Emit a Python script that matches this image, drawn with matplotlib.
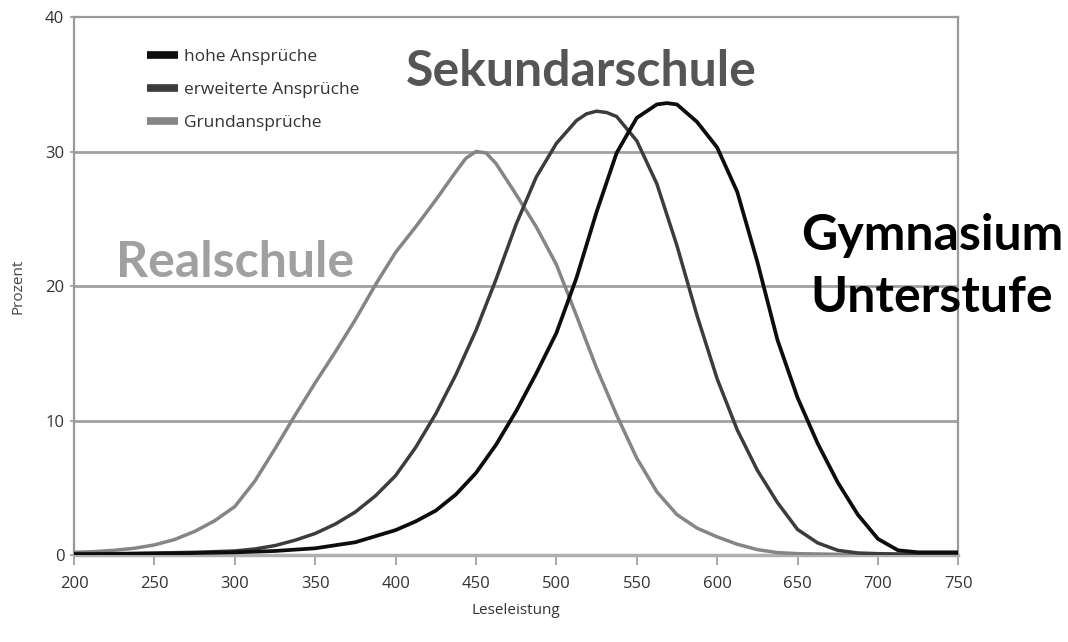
import matplotlib
matplotlib.use("Agg")
import matplotlib.pyplot as plt
from matplotlib.lines import Line2D

# Data (Leseleistung vs. Prozent)
x_grund = [200, 212.5, 225, 237.5, 250, 262.5, 275, 287.5, 300, 312.5, 325, 337.5, 350, 362.5,
           375, 387.5, 400, 412.5, 425, 437.5, 443.75, 450, 456.25, 462.5, 475, 487.5, 500,
           512.5, 525, 537.5, 550, 562.5, 575, 587.5, 600, 612.5, 625, 637.5, 650, 675, 700,
           725, 750]
grundansprueche = [0.2, 0.25, 0.35, 0.5, 0.75, 1.15, 1.75, 2.55, 3.6, 5.5, 7.9, 10.4, 12.8, 15.1,
                   17.5, 20.1, 22.5, 24.4, 26.4, 28.5, 29.5, 30.0, 29.9, 29.1, 26.8, 24.4, 21.6,
                   17.8, 13.9, 10.4, 7.2, 4.7, 3.0, 2.0, 1.35, 0.8, 0.4, 0.18, 0.1, 0.05, 0.05,
                   0.05, 0.05]

x_erw = [200, 225, 250, 275, 300, 312.5, 325, 337.5, 350, 362.5, 375, 387.5, 400, 412.5, 425,
         437.5, 450, 462.5, 475, 487.5, 500, 512.5, 518.75, 525, 531.25, 537.5, 550, 562.5,
         575, 587.5, 600, 612.5, 625, 637.5, 650, 662.5, 675, 687.5, 700, 725, 750]
erweiterte = [0.1, 0.1, 0.15, 0.2, 0.3, 0.45, 0.7, 1.1, 1.6, 2.3, 3.2, 4.4, 5.9, 8.0, 10.5,
              13.4, 16.7, 20.5, 24.6, 28.1, 30.6, 32.3, 32.8, 33.0, 32.9, 32.6, 30.8, 27.6,
              23.0, 17.8, 13.1, 9.3, 6.3, 3.9, 1.9, 0.9, 0.35, 0.15, 0.1, 0.05, 0.05]

x_hoch = [200, 250, 300, 325, 350, 375, 400, 412.5, 425, 437.5, 450, 462.5, 475, 487.5, 500,
          512.5, 525, 537.5, 550, 562.5, 568.75, 575, 587.5, 600, 612.5, 625, 637.5, 650,
          662.5, 675, 687.5, 700, 712.5, 725, 750]
hohe = [0.05, 0.1, 0.2, 0.3, 0.5, 0.95, 1.85, 2.5, 3.3, 4.5, 6.1, 8.2, 10.7, 13.5, 16.5,
        20.6, 25.5, 29.9, 32.5, 33.5, 33.6, 33.5, 32.2, 30.3, 27.0, 21.8, 16.0, 11.7, 8.3,
        5.4, 3.0, 1.2, 0.35, 0.2, 0.2]

series_labels = ["hohe Ansprüche", "erweiterte Ansprüche", "Grundansprüche"]
x_ticks = [200, 250, 300, 350, 400, 450, 500, 550, 600, 650, 700, 750]
y_ticks = [0, 10, 20, 30, 40]

fig = plt.figure(figsize=(10.68, 6.42), dpi=100)
ax = fig.add_axes([0.0693, 0.1355, 0.828, 0.838])

grid_col = "#a0a0a0"
for yv in y_ticks[1:-1]:
    ax.axhline(yv, color=grid_col, lw=2.0, zorder=1)

c_hoch, c_erw, c_grund = "#0d0d0d", "#3c3c3c", "#858585"
ax.plot(x_grund, grundansprueche, color=c_grund, lw=2.5, zorder=3,
        solid_capstyle="round", solid_joinstyle="round")
ax.plot(x_erw, erweiterte, color=c_erw, lw=2.5, zorder=4,
        solid_capstyle="round", solid_joinstyle="round")
ax.plot(x_hoch, hohe, color=c_hoch, lw=2.7, zorder=5,
        solid_capstyle="round", solid_joinstyle="round")

ax.set_xlim(200, 750)
ax.set_ylim(0, 40)
ax.set_xticks(x_ticks)
ax.set_yticks(y_ticks)
ax.set_xticklabels([str(v) for v in x_ticks], fontsize=12, color="#333333", family="Open Sans")
ax.set_yticklabels([str(v) for v in y_ticks], fontsize=12, color="#333333", family="Open Sans")
ax.tick_params(axis="x", direction="out", length=7, width=1.2, color="#999999", pad=8)
ax.tick_params(axis="y", direction="out", length=3, width=1.2, color="#999999", pad=4)
for s in ["left", "right", "top"]:
    ax.spines[s].set_color("#999999")
    ax.spines[s].set_linewidth(1.6)
ax.spines["bottom"].set_color("#b0b0b0")
ax.spines["bottom"].set_linewidth(2.5)

ax.set_xlabel("Leseleistung", fontsize=11, color="#333333", family="Open Sans", labelpad=8)
ax.set_ylabel("Prozent", fontsize=11, color="#444444", family="Open Sans", labelpad=14)

handles = [Line2D([0], [0], color=c, lw=5.5, solid_capstyle="butt") for c in (c_hoch, c_erw, c_grund)]
leg = ax.legend(handles, series_labels, loc="upper left", bbox_to_anchor=(0.083, 0.94),
                frameon=False, handlelength=1.75, handletextpad=0.35, labelspacing=0.95,
                borderpad=0, borderaxespad=0,
                prop={"family": "Open Sans", "size": 12.5})
for t in leg.get_texts():
    t.set_color("#333333")

ax.text(515.8, 34.9, "Sekundarschule", fontsize=36, fontweight="bold", color="#555555",
        family="Lato", ha="center", va="baseline", zorder=6)
ax.text(300.3, 20.7, "Realschule", fontsize=36, fontweight="bold", color="#a0a0a0",
        family="Lato", ha="center", va="baseline", zorder=6)
fig.text(932 / 1068, 1 - 250 / 642, "Gymnasium", fontsize=36, fontweight="bold",
         color="#000000", family="Lato", ha="center", va="baseline", zorder=6)
fig.text(932 / 1068, 1 - 312 / 642, "Unterstufe", fontsize=36, fontweight="bold",
         color="#000000", family="Lato", ha="center", va="baseline", zorder=6)

fig.savefig("out.png", dpi=100)
